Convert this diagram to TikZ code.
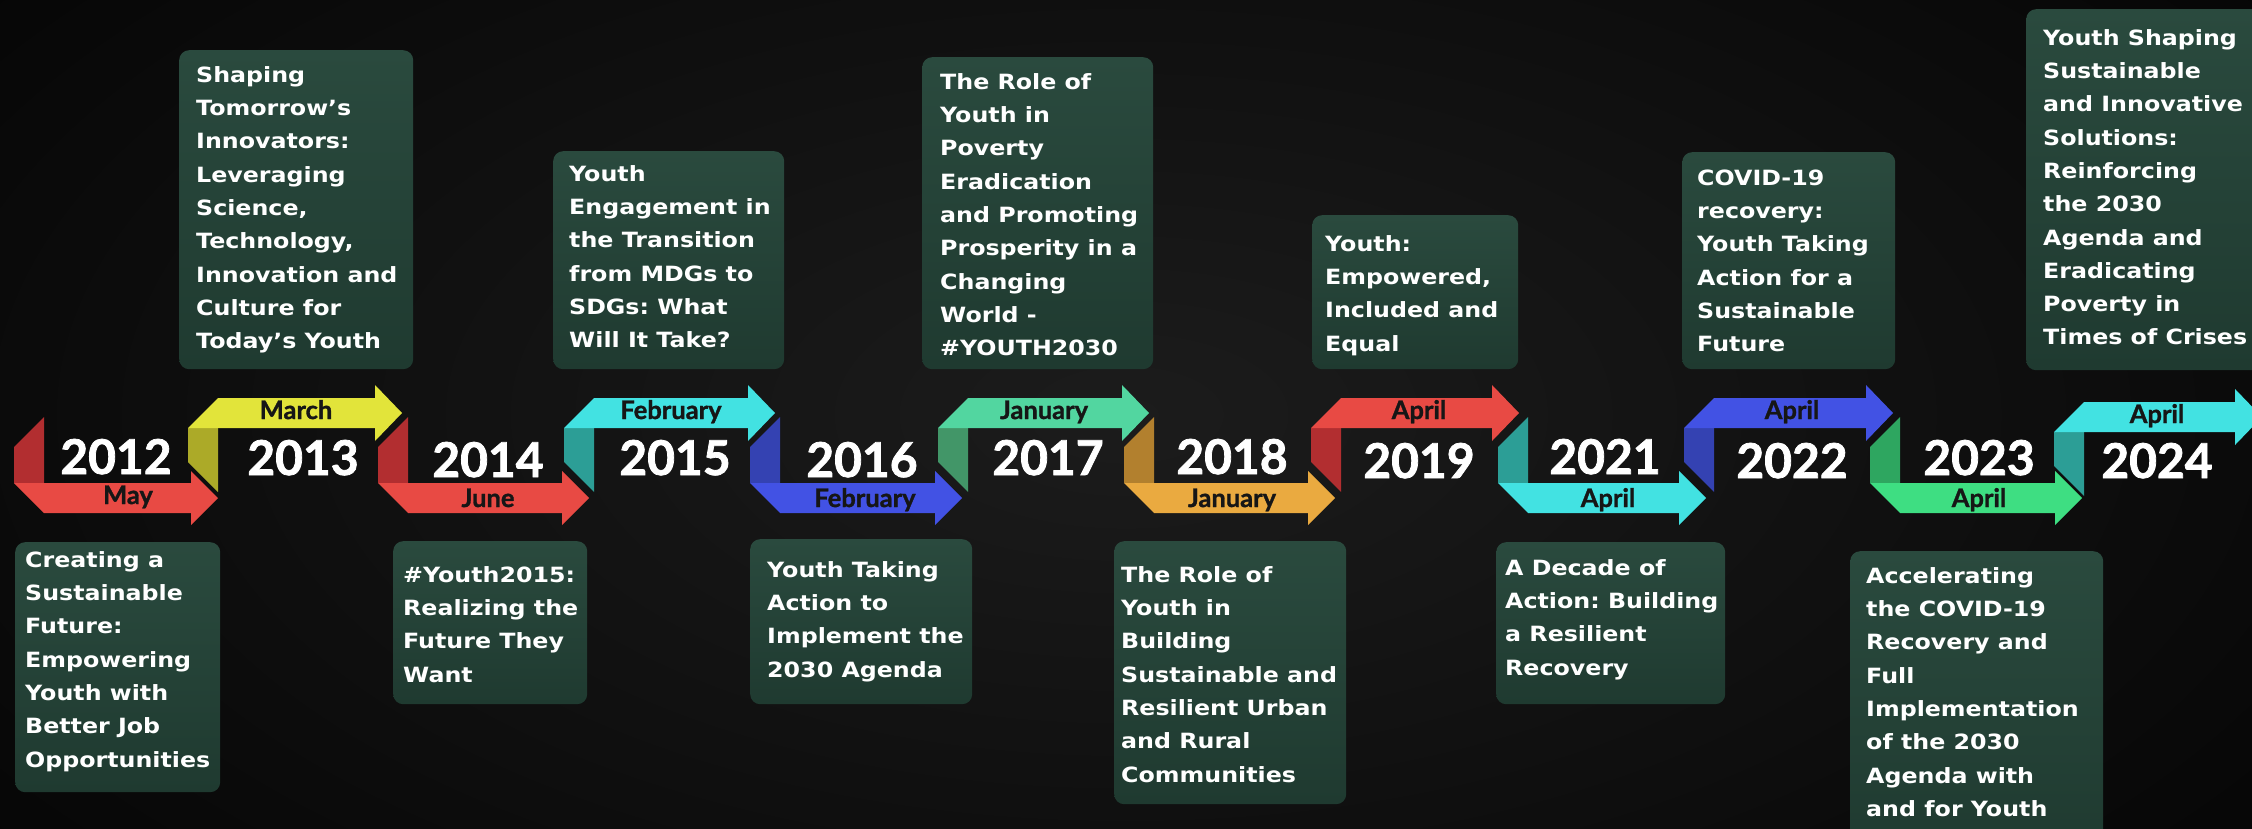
\documentclass[tikz,border=0pt]{standalone}
\usepackage{fontspec}
\newfontfamily\yearfont{Lato Bold}[FakeBold=1.6]
\newfontfamily\monthfont{Lato Bold}[FakeBold=1.2]
\newfontfamily\boxfont{DejaVu Sans}[FakeStretch=1.13]
\usetikzlibrary{calc}
\definecolor{bgin}{RGB}{28,28,28}
\definecolor{bgout}{RGB}{6,6,6}
\definecolor{boxtop}{RGB}{42,74,62}
\definecolor{boxbot}{RGB}{31,58,48}
\definecolor{monthc}{RGB}{22,22,22}
\definecolor{redbar}{RGB}{232,74,68}\definecolor{redstrip}{RGB}{178,46,48}
\definecolor{yelbar}{RGB}{226,228,58}\definecolor{yelstrip}{RGB}{172,170,40}
\definecolor{cyanbar}{RGB}{66,226,226}\definecolor{cyanstrip}{RGB}{44,158,150}
\definecolor{bluebar}{RGB}{66,82,228}\definecolor{bluestrip}{RGB}{52,66,178}
\definecolor{mintbar}{RGB}{82,214,160}\definecolor{mintstrip}{RGB}{66,150,104}
\definecolor{ochrebar}{RGB}{234,170,64}\definecolor{ochrestrip}{RGB}{178,128,46}
\definecolor{grnbar}{RGB}{62,222,130}\definecolor{grnstrip}{RGB}{46,166,96}
% ribbon folding down into a bar: #1 left x, #2 tip x, #3 strip colour, #4 bar colour
\newcommand\ribbondown[4]{%
  \fill[#3] (#1,447) -- (#1+30,417) -- (#1+30,483) -- (#1,483) -- cycle;
  \fill[#4] (#1,483) -- (#2-27,483) -- (#2-27,471) -- (#2,498) -- (#2-27,525) -- (#2-27,513) -- (#1+30,513) -- cycle;
}
% ribbon rising into a bar: #1 left x, #2 tip x, #3 strip colour, #4 bar colour, #5 y shift
\newcommand\ribbonup[5]{%
  \begin{scope}[yshift=-#5pt]
  \fill[#3] (#1,428) -- (#1+30,428) -- (#1+30,492) -- (#1,462) -- cycle;
  \fill[#4] (#1,428) -- (#1+30,398) -- (#2-27,398) -- (#2-27,385) -- (#2,413) -- (#2-27,441) -- (#2-27,428) -- cycle;
  \end{scope}
}
\tikzset{
  infobox/.style={top color=boxtop, bottom color=boxbot, rounded corners=10pt, inner sep=0pt, anchor=north west},
  infotext/.style={text=white, font=\boxfont\bfseries\frenchspacing\fontsize{21}{33.3}\selectfont, align=left, anchor=north west, inner sep=0pt},
  yearlbl/.style={text=white, font=\yearfont\fontsize{48}{48}\selectfont, anchor=base, inner sep=0pt},
  monthlbl/.style={text=monthc, font=\monthfont\fontsize{25.5}{25.5}\selectfont, anchor=base, inner sep=0pt},
}
\begin{document}
\begin{tikzpicture}[x=1pt,y=-1pt]
\useasboundingbox (0,0) rectangle (2252,829);
\clip (0,0) rectangle (2252,829);
\shade[inner color=bgin, outer color=bgout] (-300,-300) rectangle (2552,1129);

% ribbons
\ribbondown{14}{218}{redstrip}{redbar}
\ribbonup{188}{402}{yelstrip}{yelbar}{0}
\ribbondown{378}{589}{redstrip}{redbar}
\ribbonup{564}{775}{cyanstrip}{cyanbar}{0}
\ribbondown{750}{962}{bluestrip}{bluebar}
\ribbonup{938}{1149}{mintstrip}{mintbar}{0}
\ribbondown{1124}{1335}{ochrestrip}{ochrebar}
\ribbonup{1311}{1519}{redstrip}{redbar}{0}
\ribbondown{1498}{1706}{cyanstrip}{cyanbar}
\ribbonup{1684}{1893}{bluestrip}{bluebar}{0}
\ribbondown{1870}{2082}{grnstrip}{grnbar}
\ribbonup{2054}{2262}{cyanstrip}{cyanbar}{4}

% years
\node[yearlbl] (y2012) at (116,474) {2012};
\node[yearlbl] (y2013) at (303,475) {2013};
\node[yearlbl] (y2014) at (488,477) {2014};
\node[yearlbl] (y2015) at (675,475) {2015};
\node[yearlbl] (y2016) at (862,477) {2016};
\node[yearlbl] (y2017) at (1048,475) {2017};
\node[yearlbl] (y2018) at (1232,474) {2018};
\node[yearlbl] (y2019) at (1419,478) {2019};
\node[yearlbl] (y2021) at (1605,474) {2021};
\node[yearlbl] (y2022) at (1792,478) {2022};
\node[yearlbl] (y2023) at (1979,475) {2023};
\node[yearlbl] (y2024) at (2157,478) {2024};

% months
\node[monthlbl] (m2012) at (128,504) {May};
\node[monthlbl] (m2013) at (296,419) {March};
\node[monthlbl] (m2014) at (488,507) {June};
\node[monthlbl] (m2015) at (671,419) {February};
\node[monthlbl] (m2016) at (865,507) {February};
\node[monthlbl] (m2017) at (1044,419) {January};
\node[monthlbl] (m2018) at (1232,507) {January};
\node[monthlbl] (m2019) at (1419,419) {April};
\node[monthlbl] (m2021) at (1608,507) {April};
\node[monthlbl] (m2022) at (1792,419) {April};
\node[monthlbl] (m2023) at (1979,507) {April};
\node[monthlbl] (m2024) at (2157,423) {April};

% boxes
\node[infobox, minimum width=205, minimum height=250] (b2012) at (15,542) {};
\node[infobox, minimum width=234, minimum height=319] (b2013) at (179,50) {};
\node[infobox, minimum width=194, minimum height=163] (b2014) at (393,541) {};
\node[infobox, minimum width=231, minimum height=218] (b2015) at (553,151) {};
\node[infobox, minimum width=222, minimum height=165] (b2016) at (750,539) {};
\node[infobox, minimum width=231, minimum height=312] (b2017) at (922,57) {};
\node[infobox, minimum width=232, minimum height=263] (b2018) at (1114,541) {};
\node[infobox, minimum width=206, minimum height=154] (b2019) at (1312,215) {};
\node[infobox, minimum width=229, minimum height=162] (b2021) at (1496,542) {};
\node[infobox, minimum width=213, minimum height=217] (b2022) at (1682,152) {};
\node[infobox, minimum width=253, minimum height=310] (b2023) at (1850,551) {};
\node[infobox, minimum width=264, minimum height=361] (b2024) at (2026,9) {};

% texts
\node[infotext] (t2012) at (25,{567-23.3}) {\strut Creating a\\Sustainable\\Future:\\Empowering\\Youth with\\Better Job\\Opportunities};
\node[infotext] (t2013) at (196,{82-23.3}) {\strut Shaping\\Tomorrow’s\\Innovators:\\Leveraging\\Science,\\Technology,\\Innovation and\\Culture for\\Today’s Youth};
\node[infotext] (t2014) at (403,{582-23.3}) {\strut \#Youth2015:\\Realizing the\\Future They\\Want};
\node[infotext] (t2015) at (569,{181-23.3}) {\strut Youth\\Engagement in\\the Transition\\from MDGs to\\SDGs: What\\Will It Take?};
\node[infotext] (t2016) at (767,{577-23.3}) {\strut Youth Taking\\Action to\\Implement the\\2030 Agenda};
\node[infotext] (t2017) at (940,{89-23.3}) {\strut The Role of\\Youth in\\Poverty\\Eradication\\and Promoting\\Prosperity in a\\Changing\\World -\\\#YOUTH2030};
\node[infotext] (t2018) at (1121,{582-23.3}) {\strut The Role of\\Youth in\\Building\\Sustainable and\\Resilient Urban\\and Rural\\Communities};
\node[infotext] (t2019) at (1325,{251-23.3}) {\strut Youth:\\Empowered,\\Included and\\Equal};
\node[infotext] (t2021) at (1505,{575-23.3}) {\strut A Decade of\\Action: Building\\a Resilient\\Recovery};
\node[infotext] (t2022) at (1697,{185-23.3}) {\strut COVID-19\\recovery:\\Youth Taking\\Action for a\\Sustainable\\Future};
\node[infotext] (t2023) at (1866,{583-23.3}) {\strut Accelerating\\the COVID-19\\Recovery and\\Full\\Implementation\\of the 2030\\Agenda with\\and for Youth};
\node[infotext] (t2024) at (2043,{45-23.3}) {\strut Youth Shaping\\Sustainable\\and Innovative\\Solutions:\\Reinforcing\\the 2030\\Agenda and\\Eradicating\\Poverty in\\Times of Crises};
\end{tikzpicture}
\end{document}
